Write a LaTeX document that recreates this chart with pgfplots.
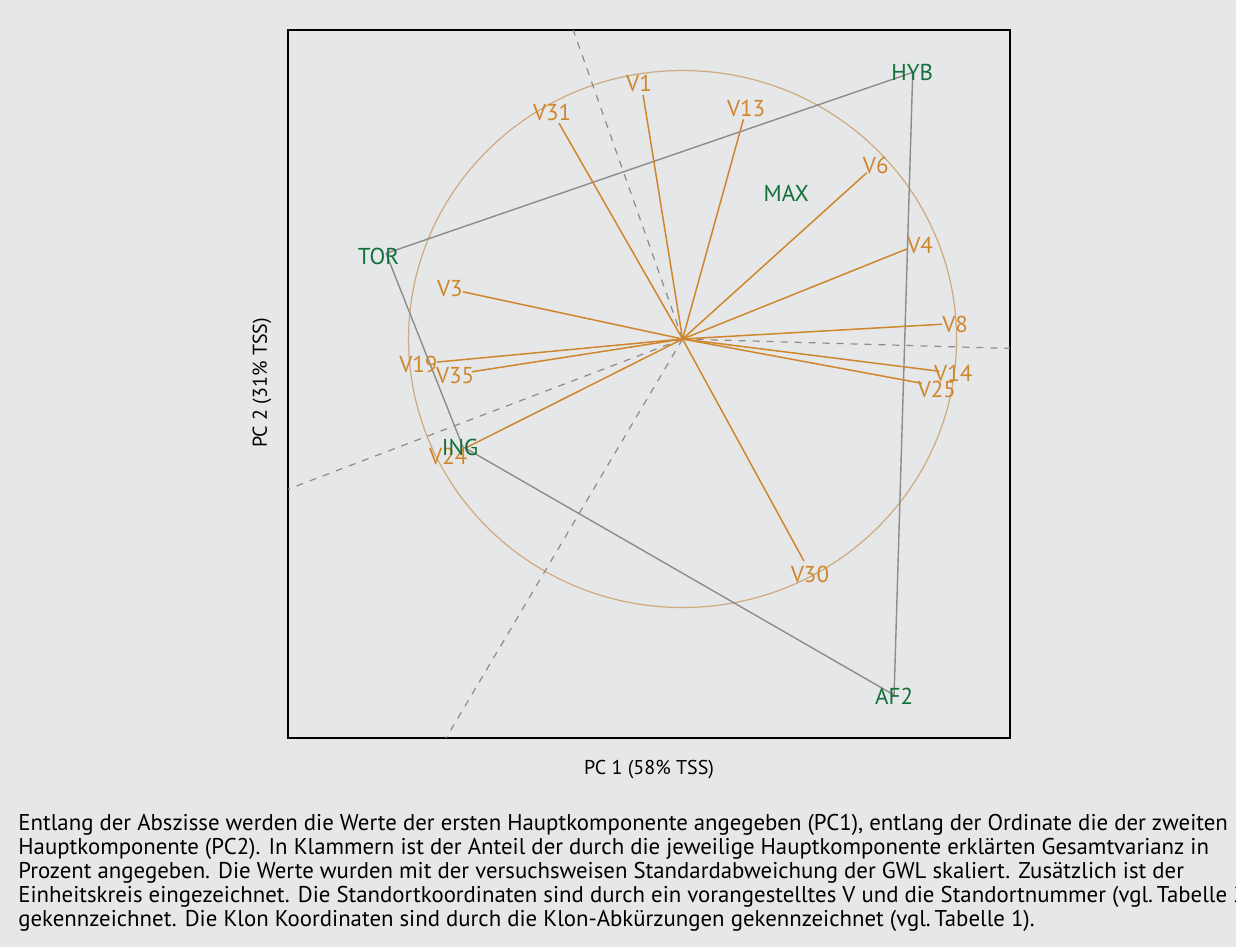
\documentclass[border=0pt]{standalone}
\usepackage{fontspec}
\setmainfont{PT Sans}
\usepackage{pgfplots}
\pgfplotsset{compat=1.18}
\definecolor{bg}{RGB}{230,231,232}
\definecolor{org}{RGB}{207,135,45}
\definecolor{circ}{RGB}{206,170,126}
\definecolor{grn}{RGB}{18,112,58}
\definecolor{gry}{RGB}{140,140,140}
\tikzset{lab/.style={inner sep=0pt, font=\fontsize{11.5}{13}\selectfont}}
\begin{document}
\begin{tikzpicture}
\fill[bg] (0pt,0pt) rectangle (618pt,473.5pt);
\useasboundingbox (0pt,0pt) rectangle (618pt,473.5pt);
\begin{axis}[at={(144pt,104.5pt)}, anchor=south west, scale only axis,
  width=361pt, height=354pt,
  xmin=-1.440, xmax=1.195, ymin=-1.486, ymax=1.151,
  axis line style={black, line width=0.8pt}, ticks=none,
  clip=true,
]
% unit circle
\draw[circ, line width=0.6pt] (axis cs:0,0) ellipse [x radius=1, y radius=1];
% rays perpendicular to polygon sides
\addplot[gry, line width=0.6pt, dash pattern=on 3.5pt off 3.5pt] coordinates {(0,0) (-0.399,1.151)};
\addplot[gry, line width=0.6pt, dash pattern=on 3.5pt off 3.5pt] coordinates {(0,0) (1.195,-0.035)};
\addplot[gry, line width=0.6pt, dash pattern=on 3.5pt off 3.5pt] coordinates {(0,0) (-0.863,-1.486)};
\addplot[gry, line width=0.6pt, dash pattern=on 3.5pt off 3.5pt] coordinates {(0,0) (-1.439,-0.559)};
% polygon of clones
\addplot[gry, line width=0.7pt] coordinates {(-1.082,0.319) (0.840,0.993) (0.772,-1.326) (-0.802,-0.401) (-1.082,0.319)};
% site vectors
\addplot[org, line width=0.75pt] coordinates {(0,0) (-0.144,0.909)};
\addplot[org, line width=0.75pt] coordinates {(0,0) (-0.451,0.804)};
\addplot[org, line width=0.75pt] coordinates {(0,0) (0.222,0.818)};
\addplot[org, line width=0.75pt] coordinates {(0,0) (0.672,0.619)};
\addplot[org, line width=0.75pt] coordinates {(0,0) (0.820,0.336)};
\addplot[org, line width=0.75pt] coordinates {(0,0) (0.946,0.055)};
\addplot[org, line width=0.75pt] coordinates {(0,0) (0.937,-0.120)};
\addplot[org, line width=0.75pt] coordinates {(0,0) (0.873,-0.165)};
\addplot[org, line width=0.75pt] coordinates {(0,0) (0.443,-0.827)};
\addplot[org, line width=0.75pt] coordinates {(0,0) (-0.802,0.176)};
\addplot[org, line width=0.75pt] coordinates {(0,0) (-0.897,-0.086)};
\addplot[org, line width=0.75pt] coordinates {(0,0) (-0.769,-0.122)};
\addplot[org, line width=0.75pt] coordinates {(0,0) (-0.794,-0.407)};
% site labels
\node[lab, text=org] at (axis cs:-0.159,0.953) {V1};
\node[lab, text=org] at (axis cs:-0.476,0.845) {V31};
\node[lab, text=org] at (axis cs:0.232,0.859) {V13};
\node[lab, text=org] at (axis cs:0.705,0.648) {V6};
\node[lab, text=org] at (axis cs:0.867,0.347) {V4};
\node[lab, text=org] at (axis cs:0.995,0.055) {V8};
\node[lab, text=org] at (axis cs:0.988,-0.130) {V14};
\node[lab, text=org] at (axis cs:0.928,-0.186) {V25};
\node[lab, text=org] at (axis cs:0.465,-0.876) {V30};
\node[lab, text=org] at (axis cs:-0.849,0.189) {V3};
\node[lab, text=org] at (axis cs:-0.964,-0.093) {V19};
\node[lab, text=org] at (axis cs:-0.830,-0.137) {V35};
\node[lab, text=org] at (axis cs:-0.855,-0.436) {V24};
% clone labels
\node[lab, text=grn] at (axis cs:-1.110,0.309) {TOR};
\node[lab, text=grn] at (axis cs:0.838,0.994) {HYB};
\node[lab, text=grn] at (axis cs:0.772,-1.330) {AF2};
\node[lab, text=grn] at (axis cs:-0.812,-0.403) {ING};
\node[lab, text=grn] at (axis cs:0.378,0.543) {MAX};
\end{axis}
\node[font=\fontsize{10}{12}\selectfont, inner sep=0pt] at (324.5pt,88.5pt) {PC 1 (58\% TSS)};
\node[font=\fontsize{10}{12}\selectfont, inner sep=0pt, rotate=90] at (131pt,282pt) {PC 2 (31\% TSS)};
\begin{scope}[every node/.style={anchor=base west, inner sep=0pt, font=\fontsize{11.4}{13}\selectfont}]
\node at (9pt,58pt) {Entlang der Abszisse werden die Werte der ersten Hauptkomponente angegeben (PC1), entlang der Ordinate die der zweiten};
\node at (9pt,46pt) {Hauptkomponente (PC2). In Klammern ist der Anteil der durch die jeweilige Hauptkomponente erklärten Gesamtvarianz in};
\node at (9pt,34pt) {Prozent angegeben. Die Werte wurden mit der versuchsweisen Standardabweichung der GWL skaliert. Zusätzlich ist der};
\node at (9pt,22pt) {Einheitskreis eingezeichnet. Die Standortkoordinaten sind durch ein vorangestelltes V und die Standortnummer (vgl.\,Tabelle 2)};
\node at (9pt,10pt) {gekennzeichnet. Die Klon Koordinaten sind durch die Klon-Abkürzungen gekennzeichnet (vgl.\,Tabelle 1).};
\end{scope}
\end{tikzpicture}
\end{document}
